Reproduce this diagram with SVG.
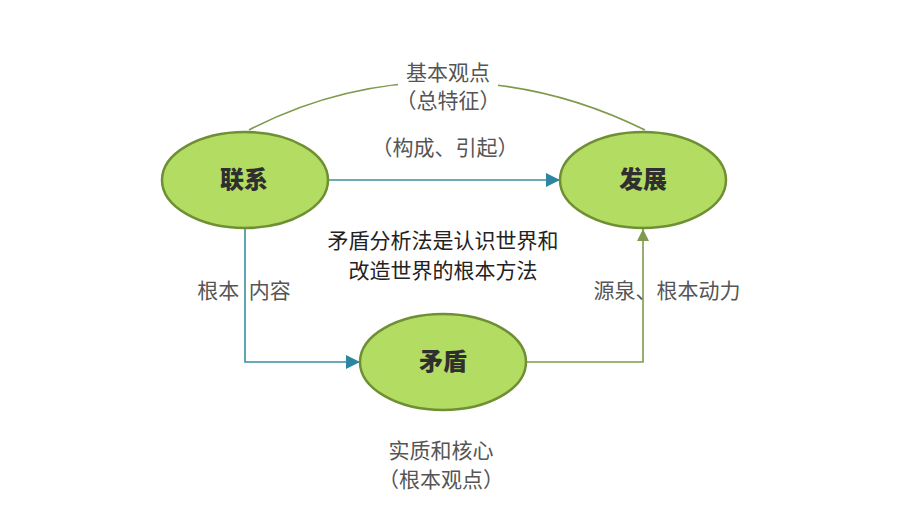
<svg xmlns="http://www.w3.org/2000/svg" width="920" height="518" viewBox="0 0 920 518">
<defs>
<style>
.node{fill:#b3dc62;stroke:#6f8f34;stroke-width:2.5}
.nt{font-family:"Noto Sans CJK SC","Noto Sans",sans-serif;font-weight:900;font-size:24px;fill:#2f2f2f;text-anchor:middle}
.lb{font-family:"Noto Sans CJK SC","Noto Sans",sans-serif;font-size:21px;fill:#555;text-anchor:middle}
.lbk{font-family:"Noto Sans CJK SC","Noto Sans",sans-serif;font-size:21px;fill:#222;text-anchor:middle}
.teal{fill:none;stroke:#3a8fa0;stroke-width:1.6}
.olive{fill:none;stroke:#7f9a4c;stroke-width:1.6}
</style>
<marker id="aT2" viewBox="0 0 10 10" refX="10" refY="5" markerWidth="14" markerHeight="14" markerUnits="userSpaceOnUse" orient="auto"><path d="M0,0L10,5L0,10z" fill="#2d86a0"/></marker>
<marker id="aO" viewBox="0 0 10 10" refX="10" refY="5" markerWidth="12" markerHeight="12" markerUnits="userSpaceOnUse" orient="auto"><path d="M0,0L10,5L0,10z" fill="#7f9a4c"/></marker>
</defs>
<rect width="920" height="518" fill="#fff"/>
<g id="connectors">
<path class="olive" d="M249,130 C330,88 400,82 445,82 C490,82 560,88 645,130"/>
<rect x="398" y="56" width="100" height="58" fill="#fff"/>
<path class="teal" d="M328,180 L560,180" marker-end="url(#aT2)"/>
<path class="teal" d="M245,228 L245,362 L360,362" marker-end="url(#aT2)"/>
<path class="olive" d="M526,362 L643,362 L643,229" marker-end="url(#aO)"/>
</g>
<g id="lianxi"><ellipse class="node" cx="245" cy="180" rx="83" ry="48"/><text class="nt" x="244" y="188">联系</text></g>
<g id="fazhan"><ellipse class="node" cx="643" cy="180" rx="83" ry="48"/><text class="nt" x="643" y="188">发展</text></g>
<g id="maodun"><ellipse class="node" cx="443" cy="362" rx="83" ry="48"/><text class="nt" x="443" y="370">矛盾</text></g>
<g id="labels">
<text class="lb" x="448" y="80">基本观点</text>
<text class="lb" x="448" y="108">（总特征）</text>
<text class="lb" x="445" y="155">（构成、引起）</text>
<text class="lbk" x="443" y="248">矛盾分析法是认识世界和</text>
<text class="lbk" x="443" y="278">改造世界的根本方法</text>
<text class="lb" x="244" y="298" xml:space="preserve">根本  内容</text>
<text class="lb" x="667" y="298">源泉、根本动力</text>
<text class="lb" x="441" y="458">实质和核心</text>
<text class="lb" x="441" y="487">（根本观点）</text>
</g>
</svg>
